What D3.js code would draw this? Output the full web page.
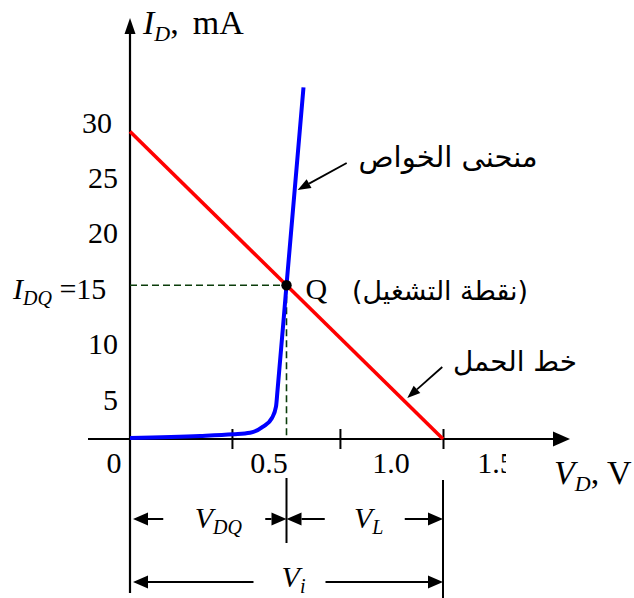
<!DOCTYPE html>
<html>
<head>
<meta charset="utf-8">
<script src="https://cdn.jsdelivr.net/npm/d3@7"></script>
<style>
  body { margin: 0; background: #fff; }
  svg { display: block; }
</style>
</head>
<body>
<svg id="chart" width="634" height="598"></svg>
<script>
// ---- Data: diode characteristic, load line and operating point ----
const tickMarkVolts   = [0.456, 0.939, 1.4];          // V, tick marks on the V_D axis
const xLabelValues    = [0.5, 1.0, 1.5];
const xLabelTexts     = ["0.5", "1.0", "1.5"];
const yLabelValues    = [5, 10, 20, 25, 30];
const yLabelTexts     = ["5", "10", "20", "25", "30"];

const diodeVolts = [0, 0.313, 0.461, 0.537, 0.595, 0.635, 0.653, 0.660, 0.700, 0.776];   // V
const diodeMilli = [0.1, 0.29, 0.46, 0.61, 1.2, 2.05, 3.15, 4.78, 15, 34.3];             // mA

const loadVolts = [0, 1.4];    // V
const loadMilli = [30, 0];     // mA

const VDQ = 0.7;   // V
const IDQ = 15;    // mA
const Vi  = 1.4;   // V

const labelCurve = "منحنى الخواص";
const labelQ     = "(نقطة التشغيل)";
const labelLoad  = "خط الحمل";

// ---- Scales ----
const x = d3.scaleLinear().domain([0, 1.4]).range([130, 443]);
const y = d3.scaleLinear().domain([0, 30]).range([439, 131.5]);
// tick-label placement along each axis
const xLab = d3.scaleLinear().domain([0.5, 1.0, 1.5]).range([269, 391, 496]);
const yLab = d3.scaleLinear().domain([5, 30]).range([399, 122]);

const svg = d3.select("#chart");
const SERIF = "'Liberation Serif','Times New Roman',serif";
const ARABIC = "'DejaVu Sans',sans-serif";

// text with italic letters and subscripts
function rich(px, py, parts, anchor, big) {
  const size = big ? 34 : 30, subSize = big ? 22 : 20;
  const t = svg.append("text")
    .attr("x", px).attr("y", py)
    .attr("text-anchor", anchor || "start")
    .style("font-family", SERIF)
    .attr("fill", "#000");
  let shift = 0;
  parts.forEach(p => {
    const ts = t.append("tspan").text(p.t)
      .attr("font-size", p.sub ? subSize : size)
      .attr("font-style", p.it ? "italic" : "normal");
    const target = p.sub ? (big ? 7 : 6) : 0;
    if (target !== shift) { ts.attr("dy", target - shift); shift = target; }
    if (p.dx) ts.attr("dx", p.dx);
  });
  return t;
}

// straight arrow with filled triangular head at (x2, y2)
function arrow(x1, y1, x2, y2, len, half, w) {
  const a = Math.atan2(y2 - y1, x2 - x1);
  const bx = x2 - len * Math.cos(a), by = y2 - len * Math.sin(a);
  svg.append("line")
    .attr("x1", x1).attr("y1", y1).attr("x2", bx).attr("y2", by)
    .attr("stroke", "#000").attr("stroke-width", w);
  const nx = -Math.sin(a) * half, ny = Math.cos(a) * half;
  svg.append("path")
    .attr("d", `M${x2},${y2}L${bx + nx},${by + ny}L${bx - nx},${by - ny}Z`)
    .attr("fill", "#000");
}

// ---- Axes ----
const x0 = x(0), yBase = y(0);
// vertical axis (continues down as the left extension line)
svg.append("line").attr("x1", x0).attr("x2", x0).attr("y1", 30).attr("y2", 593)
  .attr("stroke", "#000").attr("stroke-width", 2.2);
svg.append("path").attr("d", `M${x0},18L${x0 - 5.5},34L${x0 + 5.5},34Z`).attr("fill", "#000");
// horizontal axis
svg.append("line").attr("x1", 88).attr("x2", 556).attr("y1", yBase).attr("y2", yBase)
  .attr("stroke", "#000").attr("stroke-width", 2.2);
svg.append("path").attr("d", `M570,${yBase}L553,${yBase - 7.5}L553,${yBase + 7.5}Z`).attr("fill", "#000");

// tick marks crossing the V_D axis
const xAxis = d3.axisBottom(x).tickValues(tickMarkVolts).tickSize(20).tickFormat("");
const gx = svg.append("g").attr("transform", `translate(0,${yBase - 10})`).call(xAxis);
gx.select(".domain").remove();
gx.selectAll(".tick line").attr("stroke", "#000").attr("stroke-width", 2);

// tick labels
svg.append("defs").append("clipPath").attr("id", "lblclip")
  .append("rect").attr("x", 0).attr("y", 0).attr("width", 506).attr("height", 598);
svg.append("g").attr("clip-path", "url(#lblclip)")
  .selectAll("text").data(xLabelValues).join("text")
  .attr("x", d => xLab(d)).attr("y", 473)
  .attr("text-anchor", "middle")
  .style("font-family", SERIF).attr("font-size", 30)
  .text((d, i) => xLabelTexts[i]);
svg.append("text").attr("x", x0 - 16).attr("y", 473).attr("text-anchor", "middle")
  .style("font-family", SERIF).attr("font-size", 30).text("0");

svg.append("g").selectAll("text").data(yLabelValues).join("text")
  .attr("x", d => d === 30 ? 112 : 118).attr("y", d => yLab(d) + 10.5)
  .attr("text-anchor", "end")
  .style("font-family", SERIF).attr("font-size", 30)
  .text((d, i) => yLabelTexts[i]);
rich(13, yLab(IDQ) + 10.5, [{t: "I", it: true}, {t: "DQ", it: true, sub: true}, {t: " =" + IDQ}]);

// axis titles
rich(143, 34, [{t: "I", it: true}, {t: "D", it: true, sub: true}, {t: ","}, {t: "mA", dx: 14}], "start", true);
rich(554, 484, [{t: "V", it: true}, {t: "D", it: true, sub: true}, {t: ", V"}], "start", true);

// ---- Operating point guides ----
const dash = "#0b3d0b";
svg.append("line").attr("x1", x0).attr("x2", x(VDQ)).attr("y1", y(IDQ)).attr("y2", y(IDQ))
  .attr("stroke", dash).attr("stroke-width", 1.6).attr("stroke-dasharray", "7,4");
svg.append("line").attr("x1", x(VDQ)).attr("x2", x(VDQ)).attr("y1", y(IDQ)).attr("y2", yBase)
  .attr("stroke", dash).attr("stroke-width", 1.6).attr("stroke-dasharray", "7,4");

// ---- Load line ----
svg.append("path")
  .datum(loadVolts.map((v, i) => [v, loadMilli[i]]))
  .attr("d", d3.line().x(d => x(d[0])).y(d => y(d[1])))
  .attr("fill", "none").attr("stroke", "#ff0000").attr("stroke-width", 3.6);

// ---- Diode characteristic ----
svg.append("path")
  .datum(diodeVolts.map((v, i) => [v, diodeMilli[i]]))
  .attr("d", d3.line().x(d => x(d[0])).y(d => y(d[1])).curve(d3.curveMonotoneX))
  .attr("fill", "none").attr("stroke", "#0000ff").attr("stroke-width", 4)
  .attr("stroke-linecap", "butt");

// Q point
svg.append("circle").attr("cx", x(VDQ)).attr("cy", y(IDQ)).attr("r", 5.2).attr("fill", "#000");
svg.append("text").attr("x", x(VDQ) + 19).attr("y", y(IDQ) + 14)
  .style("font-family", SERIF).attr("font-size", 30).text("Q");

// ---- Arabic annotations (sized to their measured widths) ----
function arabic(txt, cx, base, width) {
  const t = svg.append("text")
    .attr("x", cx).attr("y", base)
    .attr("text-anchor", "middle")
    .attr("direction", "rtl")
    .style("font-family", ARABIC)
    .attr("font-size", 20)
    .text(txt);
  const w = t.node().getComputedTextLength();
  if (w > 0) t.attr("font-size", 20 * width / w);
  return t;
}
arabic(labelCurve, 448, 167, 179);
arabic(labelQ, 440, 300, 176);
arabic(labelLoad, 515, 371, 124);

// leader for the characteristic curve (tip on the steep branch)
const iCurve = 24.3;
const k = (iCurve - IDQ) / (diodeMilli[9] - IDQ);
const vCurve = VDQ + k * (diodeVolts[9] - VDQ);
const tipC = [x(vCurve) + 3, y(iCurve)];
arrow(tipC[0] + 49, tipC[1] - 27, tipC[0], tipC[1], 13, 5, 1.8);

// leader for the load line
const iLoad = 4;
const vLoad = loadVolts[1] * (1 - iLoad / loadMilli[0]);
const tipL = [x(vLoad) + 6, y(iLoad)];
arrow(tipL[0] + 35, tipL[1] - 31, tipL[0], tipL[1], 13, 5, 1.8);

// ---- Dimension lines below the axis ----
const rowY = [519, 582];
const rowBase = [528, 587];
svg.append("line").attr("x1", x(VDQ)).attr("x2", x(VDQ)).attr("y1", 478).attr("y2", 543)
  .attr("stroke", "#000").attr("stroke-width", 2);
svg.append("line").attr("x1", x(Vi)).attr("x2", x(Vi)).attr("y1", 480).attr("y2", 598)
  .attr("stroke", "#000").attr("stroke-width", 2);

const dims = [
  {from: 0,   to: VDQ, row: 0, sub: "DQ", gap: 102, shift: 6},
  {from: VDQ, to: Vi,  row: 0, sub: "L",  gap: 80,  shift: 0},
  {from: 0,   to: Vi,  row: 1, sub: "i",  gap: 72,  shift: 3}
];
dims.forEach(dm => {
  const a = x(dm.from) + (dm.from === 0 ? 3 : 0);
  const b = x(dm.to);
  const c = (x(dm.from) + x(dm.to)) / 2 + dm.shift;
  const yy = rowY[dm.row];
  arrow(c - dm.gap / 2, yy, a, yy, 15, 6.5, 2);
  arrow(c + dm.gap / 2, yy, b, yy, 15, 6.5, 2);
  rich(c + 4, rowBase[dm.row], [{t: "V", it: true}, {t: dm.sub, it: true, sub: true}], "middle");
});
</script>
</body>
</html>
